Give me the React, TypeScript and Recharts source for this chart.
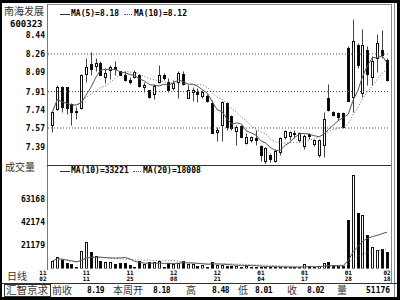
import React from "react";
import { Bar, ComposedChart, Line, ReferenceLine, XAxis, YAxis } from "recharts";

// daily candles, 70 bars
const opens = [
  7.6, 7.75, 7.95, 7.95, 7.79, 7.72, 7.76, 8.07, 8.17, 8.15,
  8.18, 8.05, 8.11, 8.14, 8.1, 8.06, 8.02, 8.05, 8.06, 7.95,
  7.92, 7.89, 8.0, 8.06, 8.0, 7.94, 8.0, 8.07, 7.85, 7.91,
  7.91, 7.87, 7.87, 7.8, 7.53, 7.6, 7.8, 7.68, 7.54, 7.59,
  7.43, 7.46, 7.48, 7.4, 7.26, 7.32, 7.26, 7.35, 7.49, 7.5,
  7.52, 7.46, 7.4, 7.51, 7.42, 7.32, 7.41, 7.85, 7.72, 7.71,
  7.71, 8.32, 7.86, 8.34, 7.9, 8.3, 8.05, 8.22, 8.3, 8.2,
];
const highs = [
  7.74, 7.97, 7.96, 7.95, 7.8, 7.77, 8.07, 8.22, 8.28, 8.22,
  8.19, 8.13, 8.16, 8.19, 8.1, 8.1, 8.05, 8.11, 8.07, 8.0,
  7.92, 7.98, 8.16, 8.08, 8.04, 8.02, 8.1, 8.1, 7.97, 7.95,
  7.94, 7.92, 7.89, 7.83, 7.58, 7.82, 7.81, 7.69, 7.6, 7.6,
  7.52, 7.5, 7.55, 7.41, 7.39, 7.34, 7.37, 7.49, 7.55, 7.54,
  7.55, 7.53, 7.51, 7.52, 7.47, 7.47, 7.72, 7.98, 7.73, 7.72,
  7.72, 8.33, 8.59, 8.36, 8.49, 8.33, 8.24, 8.45, 8.48, 8.22,
];
const lows = [
  7.53, 7.74, 7.72, 7.7, 7.6, 7.65, 7.75, 8.0, 8.06, 8.1,
  8.06, 7.99, 8.03, 8.06, 8.06, 8.01, 7.98, 8.04, 7.95, 7.91,
  7.85, 7.84, 7.99, 8.02, 7.91, 7.92, 7.85, 7.97, 7.85, 7.82,
  7.81, 7.85, 7.81, 7.52, 7.45, 7.45, 7.55, 7.55, 7.41, 7.49,
  7.42, 7.44, 7.41, 7.26, 7.23, 7.25, 7.25, 7.32, 7.47, 7.46,
  7.48, 7.44, 7.37, 7.47, 7.4, 7.3, 7.3, 7.73, 7.68, 7.64,
  7.57, 7.82, 7.72, 8.13, 7.86, 7.97, 7.97, 8.09, 8.22, 8.01,
];
const closes = [
  7.72, 7.95, 7.77, 7.76, 7.72, 7.73, 8.06, 8.14, 8.12, 8.18,
  8.06, 8.08, 8.14, 8.12, 8.06, 8.02, 8.0, 8.09, 7.96, 7.97,
  7.86, 7.96, 8.06, 8.04, 7.92, 7.99, 8.08, 7.98, 7.92, 7.92,
  7.89, 7.91, 7.82, 7.52, 7.55, 7.81, 7.58, 7.57, 7.58, 7.49,
  7.49, 7.49, 7.46, 7.32, 7.38, 7.28, 7.36, 7.48, 7.54, 7.53,
  7.51, 7.52, 7.5, 7.5, 7.46, 7.46, 7.65, 7.74, 7.69, 7.67,
  7.58, 7.82, 8.38, 8.16, 8.34, 8.07, 8.19, 8.36, 8.25, 8.02,
];
const volumes = [
  6850, 10800, 7760, 5300, 3830, 1640, 16250, 24460, 15330, 11400,
  6850, 6200, 5660, 3830, 5300, 4750, 3200, 1640, 7120, 4100,
  6200, 6200, 7100, 1640, 4750, 4100, 5300, 7120, 4100, 3830,
  2300, 3200, 1640, 6200, 3200, 3200, 2500, 2300, 2000, 1800,
  2000, 1500, 1400, 1600, 1300, 1200, 1400, 1300, 1200, 1100,
  1000, 1200, 4300, 2000, 1600, 2600, 5200, 6100, 2000, 1950,
  2020, 44270, 85000, 51000, 49000, 31000, 19900, 16890, 17800, 15330,
];

const priceTicks = [8.44, 8.26, 8.09, 7.91, 7.74, 7.57, 7.39];
const priceGrid = [8.26, 7.91, 7.57];
const volumeTicks = [63168, 42174, 21179];
const dateTickBars = [0, 7, 16, 25, 34, 43, 52, 61, 69];
const dateTickLabels = ["11/02", "11/11", "11/25", "12/08", "12/21", "01/04", "01/17", "01/28", "02/18"];
const statusLabels = ["前收", "本周开", "高", "低", "收", "量"];
const statusValues = ["8.19", "8.18", "8.48", "8.01", "8.02", "51176"];

const movingAvg = (arr: number[], n: number) =>
  arr.map((_, i) => {
    const s = arr.slice(Math.max(0, i - n + 1), i + 1);
    return s.reduce((a, b) => a + b, 0) / s.length;
  });

const ma5 = movingAvg(closes, 5);
const ma10 = movingAvg(closes, 10);
const vma10 = movingAvg(volumes, 10);
const vma20 = movingAvg(volumes, 20);

const data = opens.map((open, i) => ({
  i,
  open,
  high: highs[i],
  low: lows[i],
  close: closes[i],
  range: [lows[i], highs[i]],
  vol: volumes[i],
  ma5: ma5[i],
  ma10: ma10[i],
  vma10: vma10[i],
  vma20: vma20[i],
}));

const last = data.length - 1;
const MONO = '"DejaVu Sans Mono", monospace';
const CJK = '"Noto Sans CJK SC", sans-serif';

const Candle = (props: any) => {
  const { x, y, width, height, payload } = props;
  const { open, close, high, low } = payload;
  const cx = Math.floor(x + width / 2) + 0.5;
  const k = high === low ? 0 : height / (high - low);
  const yo = y + (high - open) * k;
  const yc = y + (high - close) * k;
  const up = close >= open;
  const top = Math.round(Math.min(yo, yc)) + 0.5;
  let bot = Math.round(Math.max(yo, yc)) + 0.5;
  if (bot - top < 1) bot = top + 1;
  const yh = Math.round(y) + 0.5;
  const yl = Math.round(y + height) + 0.5;
  return (
    <g>
      {yh < top && <line x1={cx} x2={cx} y1={yh} y2={top} stroke="#444" />}
      {yl > bot && <line x1={cx} x2={cx} y1={bot} y2={yl} stroke="#444" />}
      <rect x={cx - 1} y={top} width={2} height={bot - top} fill={up ? "#fff" : "#000"} stroke="#111" />
    </g>
  );
};

const VolBar = (props: any) => {
  const { x, y, width, height, payload } = props;
  const cx = Math.floor(x + width / 2) + 0.5;
  const top = Math.round(y) + 0.5;
  const base = Math.round(y + height) - 0.5;
  const up = payload.close >= payload.open;
  return (
    <rect x={cx - 1} y={top} width={2} height={Math.max(1, base - top)} fill={up ? "#fff" : "#000"} stroke="#111" />
  );
};

const PriceTick = (props: any) => {
  const { x, y, payload } = props;
  return (
    <text x={x} y={y} dy={3} textAnchor="end" fontFamily={MONO} fontSize={8} fontWeight="bold" fill="#000">
      {Number(payload.value).toFixed(2)}
    </text>
  );
};

const VolTick = (props: any) => {
  const { x, y, payload } = props;
  return (
    <text x={x} y={y} dy={3} textAnchor="end" fontFamily={MONO} fontSize={8} fontWeight="bold" fill="#000">
      {payload.value}
    </text>
  );
};

const DateTick = (props: any) => {
  const { x, y, payload } = props;
  const k = dateTickBars.indexOf(payload.value);
  if (k < 0) return <g />;
  const [m, d] = dateTickLabels[k].split("/");
  const tx = k === 0 ? x - 9.5 : x;
  return (
    <g fontFamily={MONO} fontSize={6} fontWeight="bold" fill="#000">
      <text x={tx} y={y + 6} textAnchor="middle">{m}</text>
      <text x={tx} y={y + 12.5} textAnchor="middle">{d}</text>
    </g>
  );
};

const abs = (s: React.CSSProperties): React.CSSProperties => ({ position: "absolute", ...s });

const legendText: React.CSSProperties = {
  fontFamily: MONO,
  fontWeight: 700,
  fontSize: 8,
  lineHeight: "8px",
  whiteSpace: "nowrap",
};

const Legend = ({ top, a, b, dotX }: { top: number; a: string; b: string; dotX: number }) => (
  <>
    <div style={abs({ left: 60, top: top + 4, width: 10, height: 0, borderTop: "1px solid #333" })} />
    <div style={abs({ left: 71, top, ...legendText })}>{a}</div>
    <div style={abs({ left: dotX, top: top + 4, width: 8, height: 0, borderTop: "1px dotted #555" })} />
    <div style={abs({ left: dotX + 10, top, ...legendText })}>{b}</div>
  </>
);

const statusLabelX = [52, 113, 186, 238, 287, 337];
const statusValueX = [87, 153, 212, 255, 307, 366];

export default function App() {
  return (
    <div style={{ position: "fixed", left: 0, top: 0, width: 400, height: 300, background: "#fff", overflow: "hidden" }}>
      <div style={abs({ left: 0, top: 0 })}>
        <ComposedChart width={392} height={166} data={data} margin={{ top: 10, right: 2.5, bottom: 2, left: 0 }}>
          <XAxis dataKey="i" hide padding={{ left: 2, right: 0 }} />
          <YAxis
            type="number"
            domain={[7.2344, 8.67]}
            allowDataOverflow
            ticks={priceTicks}
            interval={0}
            width={48}
            axisLine={false}
            tickLine={false}
            tickSize={0}
            tickMargin={3}
            tick={<PriceTick />}
          />
          {priceGrid.map((v) => (
            <ReferenceLine key={v} y={v} stroke="#555" strokeDasharray="1 2" />
          ))}
          <Bar dataKey="range" shape={<Candle />} isAnimationActive={false} />
          <Line type="linear" dataKey="ma5" stroke="#555" strokeWidth={1} dot={false} activeDot={false} isAnimationActive={false} />
          <Line type="linear" dataKey="ma10" stroke="#666" strokeWidth={1} strokeDasharray="1 2" dot={false} activeDot={false} isAnimationActive={false} />
        </ComposedChart>
      </div>

      <div style={abs({ left: 0, top: 160 })}>
        <ComposedChart width={392} height={125} data={data} margin={{ top: 10, right: 2.5, bottom: 0, left: 0 }}>
          <XAxis
            dataKey="i"
            padding={{ left: 2, right: 0 }}
            ticks={dateTickBars}
            interval={0}
            height={16.5}
            axisLine={false}
            tickLine={false}
            tickSize={0}
            tickMargin={0}
            tick={<DateTick />}
          />
          <YAxis
            type="number"
            domain={[0, 90000]}
            allowDataOverflow
            ticks={volumeTicks}
            interval={0}
            width={48}
            axisLine={false}
            tickLine={false}
            tickSize={0}
            tickMargin={3}
            tick={<VolTick />}
          />
          <Bar dataKey="vol" shape={<VolBar />} isAnimationActive={false} />
          <Line type="linear" dataKey="vma10" stroke="#555" strokeWidth={1} dot={false} activeDot={false} isAnimationActive={false} />
          <Line type="linear" dataKey="vma20" stroke="#666" strokeWidth={1} strokeDasharray="1 2" dot={false} activeDot={false} isAnimationActive={false} />
        </ComposedChart>
      </div>

      {/* frame */}
      <div style={abs({ left: 47, top: 4, width: 345, height: 1, background: "#888" })} />
      <div style={abs({ left: 47, top: 4, width: 1, height: 266, background: "#777" })} />
      <div style={abs({ left: 47, top: 165, width: 345, height: 1, background: "#333" })} />
      <div style={abs({ left: 391, top: 4, width: 1, height: 279, background: "#888" })} />
      <div style={abs({ left: 394, top: 3, width: 1, height: 294, background: "#888" })} />
      <div style={abs({ left: 0, top: 283, width: 400, height: 1, background: "#333" })} />
      <div style={abs({ left: 0, top: 0, width: 400, height: 300, borderStyle: "solid", borderColor: "#000", borderWidth: "3px 3px 3px 2px", boxSizing: "border-box" })} />

      {/* legends */}
      <Legend top={10} dotX={124} a={`MA(5)=${ma5[last].toFixed(2)}`} b={`MA(10)=${ma10[last].toFixed(2)}`} />
      <Legend top={167} dotX={133} a={`MA(10)=${Math.round(vma10[last])}`} b={`MA(20)=${Math.round(vma20[last])}`} />

      {/* left labels */}
      <div style={abs({ left: 4, top: 5, fontFamily: CJK, fontSize: 10, lineHeight: "11px", color: "#333" })}>南海发展</div>
      <div style={abs({ left: 10, top: 19.5, fontFamily: MONO, fontWeight: 700, fontSize: 9, lineHeight: "8px", color: "#000" })}>600323</div>
      <div style={abs({ left: 5, top: 161, fontFamily: CJK, fontSize: 10, lineHeight: "12px", color: "#333" })}>成交量</div>
      <div style={abs({ left: 7, top: 270, fontFamily: CJK, fontSize: 10, lineHeight: "12px", color: "#333" })}>日线</div>

      {/* status bar */}
      <div style={abs({ left: 4, top: 284, width: 45, height: 11, border: "1px solid #333" })} />
      <div style={abs({ left: 6, top: 284, fontFamily: CJK, fontSize: 10.5, lineHeight: "12px", color: "#333" })}>汇智京求</div>
      {statusLabels.map((s, k) => (
        <div key={s} style={abs({ left: statusLabelX[k], top: 284, fontFamily: CJK, fontSize: 10, lineHeight: "12px", color: "#333", whiteSpace: "nowrap" })}>{s}</div>
      ))}
      {statusValues.map((s, k) => (
        <div key={k} style={abs({ left: statusValueX[k], top: 286, fontFamily: MONO, fontWeight: 700, fontSize: 8, lineHeight: "9px", letterSpacing: s.includes(".") ? -0.6 : 0, color: "#000", whiteSpace: "nowrap" })}>{s}</div>
      ))}
    </div>
  );
}
